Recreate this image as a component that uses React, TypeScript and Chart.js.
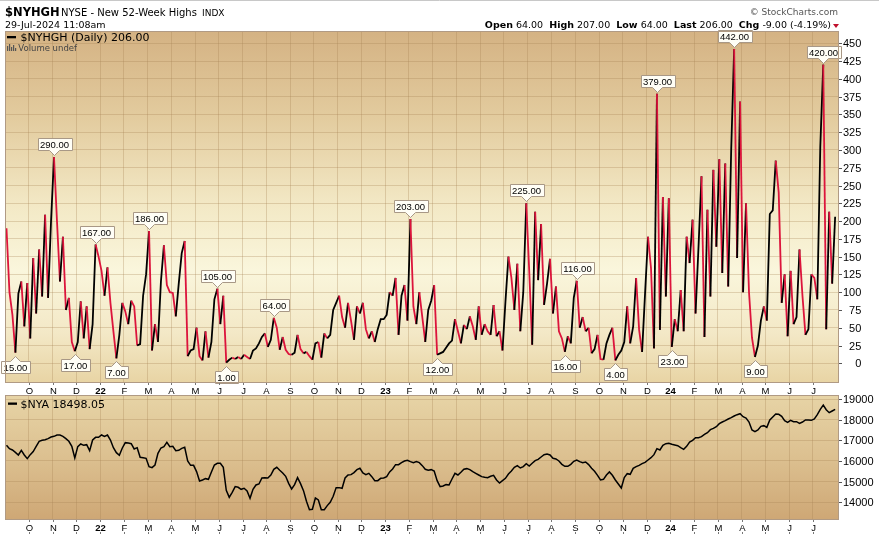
import React, { useEffect, useRef } from 'react';
import { Chart, registerables } from 'chart.js';

Chart.register(...registerables);

// ---------------- data ----------------
// months are counted from Sep 2021 (= 0); tick labels sit on the first of each month
const monthLabels = ['O','N','D','22','F','M','A','M','J','J','A','S','O','N','D','23','F','M','A','M','J','J','A','S','O','N','D','24','F','M','A','M','J','J'];
const yearLabels = ['22', '23', '24'];
const firstTickMonth = 1;

// $NYHGH, 8 readings per month (Sep 2021 .. Jul 2024)
const nyhgh2021 = [
  190,100,68,15,98,115,52,113,
  35,148,70,160,94,209,92,200,
  290,200,115,178,75,92,30,17,
  30,87,35,80,20,55,167,150,
];
const nyhgh2022 = [
  130,95,135,85,45,7,40,85,
  73,55,88,80,25,27,95,125,
  186,18,55,30,115,166,110,100,
  99,66,112,155,172,10,18,20,
  50,10,4,45,8,30,90,105,
  55,95,1,5,8,6,9,6,
  12,9,6,18,21,28,37,42,
  23,33,64,50,19,37,19,13,
  12,15,40,20,14,16,10,5,
  28,30,8,42,35,40,75,85,
  95,65,50,85,60,33,80,70,
  85,48,35,45,30,48,62,62,
];
const nyhgh2023 = [
  68,100,95,120,40,95,110,60,
  203,80,55,100,65,30,75,88,
  110,12,14,16,22,28,32,62,
  45,28,54,48,66,52,33,80,
  40,55,45,40,82,38,45,18,
  87,150,120,75,140,45,100,225,
  130,26,213,117,196,82,112,147,
  70,108,45,35,16,38,28,92,
  116,50,65,45,50,14,20,40,
  6,5,28,40,50,4,12,18,
  30,80,28,52,120,47,16,98,
  178,134,21,379,47,234,94,232,
];
const nyhgh2024 = [
  23,62,45,103,45,178,141,202,
  70,164,263,37,216,94,272,164,
  287,127,281,108,300,442,148,368,
  100,225,100,36,9,25,60,80,
  60,210,215,285,240,85,125,38,
  130,55,65,160,95,40,48,125,
  120,90,305,420,48,213,112,206,
];
const nyhghPerMonth = 8;

// $NYA, 8 readings per month
const nya2021 = [
  16758,16597,16532,16419,16290,16516,16290,16113,
  16306,16452,16710,16952,17000,17032,17081,17161,
  17193,17258,17258,17193,17081,16952,16710,16145,
  16693,16823,16758,16790,16500,17016,17145,17145,
];
const nya2022 = [
  17258,17193,17258,17016,16645,16403,16274,16629,
  16887,16871,16839,16581,16645,16177,16161,16129,
  15726,15677,15806,16371,16629,16693,16903,16693,
  16710,16500,16516,16613,16661,16000,15790,15790,
  15484,15032,15080,15145,15113,15468,15806,15887,
  15887,15693,14581,14242,14484,14758,14726,14629,
  14677,14548,14193,14629,14839,14887,15177,15193,
  15177,15322,15597,15693,15548,15419,15258,14919,
  14645,14855,15193,14903,14564,14048,13645,13661,
  14210,14113,13645,13645,13839,14000,14290,14710,
  14710,14677,15177,15322,15339,15435,15580,15645,
  15419,15339,15403,15242,15048,15048,15161,15177,
];
const nya2023 = [
  15242,15468,15613,15823,15823,15919,16000,16032,
  15968,15919,15968,15919,15774,15597,15548,15580,
  15516,15048,14758,14790,14855,14839,15129,15403,
  15322,15451,15597,15629,15580,15484,15403,15322,
  15242,15210,15193,15258,15306,15080,14935,15048,
  15161,15371,15516,15693,15774,15661,15726,15871,
  15758,15887,16016,16080,16193,16306,16339,16290,
  16129,16096,16000,15839,15742,15742,15839,15984,
  16048,15968,15919,15952,15823,15645,15500,15306,
  15080,15113,15322,15468,15306,15080,14887,14693,
  15193,15387,15355,15645,15726,15790,15871,15935,
  16048,16161,16306,16597,16532,16758,16839,16855,
];
const nya2024 = [
  16806,16774,16742,16645,16564,16710,16919,17000,
  17129,17129,17177,17290,17371,17516,17580,17661,
  17806,17887,17952,18032,18097,18177,18242,18290,
  18145,18081,17887,17500,17419,17500,17677,17710,
  17629,17984,18129,18274,18258,18161,17952,17871,
  17968,17903,17903,17822,17887,17984,17984,17968,
  18032,18242,18500,18710,18484,18339,18419,18498.05,
];
const nyaPerMonth = 8;

const hiTicks = [0,25,50,75,100,125,150,175,200,225,250,275,300,325,350,375,400,425,450];
const nyaTicks = [14000,15000,16000,17000,18000,19000];

// labelled extremes: [month, slot within month, 'a' above | 'b' below]
const callouts: [number, number, string][] = [
  [0,3,'b'],[2,0,'a'],[2,7,'b'],[3,6,'a'],[4,5,'b'],[6,0,'a'],[8,7,'a'],[9,2,'b'],
  [11,2,'a'],[17,0,'a'],[18,1,'b'],[21,7,'a'],[23,4,'b'],[24,0,'a'],[25,5,'b'],
  [27,3,'a'],[28,0,'b'],[30,5,'a'],[31,4,'b'],[34,3,'a'],
];

const titleSymbol = '$NYHGH';
const titleName = 'NYSE - New 52-Week Highs';
const titleExch = 'INDX';
const stampText = '29-Jul-2024 11:08am';
const copyrightText = '\u00A9 StockCharts.com';
const quoteFields: [string, number][] = [['Open', 64], ['High', 207], ['Low', 64], ['Last', 206]];
const quoteChg = -9;
const quoteChgPct = -4.19;
const legendTop = '$NYHGH (Daily) 206.00';
const legendVolume = 'Volume undef';
const legendBottom = '$NYA 18498.05';

// ---------------- styling ----------------
const W = 879;
const TOP_H = 395;
const BOT_H = 142;
const X_MIN = 0;
const X_MAX = 35.1;
const RED = '#dc143c';
const BLACK = '#000000';
const GRID = 'rgba(165,128,84,0.30)';
const FRAME = '#b09a84';
const FV = '"DejaVu Sans", Verdana, sans-serif';
const FA = '"Liberation Sans", Arial, sans-serif';

const hiValues = [...nyhgh2021, ...nyhgh2022, ...nyhgh2023, ...nyhgh2024];
const nyaValues = [...nya2021, ...nya2022, ...nya2023, ...nya2024];
const hiPoints = hiValues.map((v, i) => ({ x: Math.floor(i / nyhghPerMonth) + ((i % nyhghPerMonth) + 0.5) / nyhghPerMonth, y: v }));
const nyaPoints = nyaValues.map((v, i) => ({ x: Math.floor(i / nyaPerMonth) + ((i % nyaPerMonth) + 0.5) / nyaPerMonth, y: v }));
const monthTickValues = monthLabels.map((_, i) => i + firstTickMonth);

let calloutFont = '';
function pickCalloutFont(ctx: CanvasRenderingContext2D) {
  if (calloutFont) return calloutFont;
  ctx.font = '11px "Liberation Sans Narrow", monospace';
  const a = ctx.measureText('186.00').width;
  ctx.font = '11px monospace';
  const b = ctx.measureText('186.00').width;
  calloutFont = Math.abs(a - b) > 0.5 ? '11px "Liberation Sans Narrow"' : '9.5px ' + FA;
  return calloutFont;
}

function drawCallout(ctx: CanvasRenderingContext2D, x: number, y: number, text: string, above: boolean) {
  ctx.save();
  ctx.font = pickCalloutFont(ctx);
  const tw = ctx.measureText(text).width;
  const w = Math.round(tw + 5);
  const h = 12;
  const ptr = 5;
  const cx = Math.round(x) + 0.5;
  const left = Math.round(cx - w / 2) + 0.5;
  const right = left + w;
  ctx.beginPath();
  if (above) {
    const tip = Math.round(y - 2) + 0.5;
    const bb = tip - ptr;
    const bt = bb - h;
    ctx.moveTo(left, bt); ctx.lineTo(right, bt); ctx.lineTo(right, bb);
    ctx.lineTo(cx + 5, bb); ctx.lineTo(cx, tip); ctx.lineTo(cx - 5, bb);
    ctx.lineTo(left, bb); ctx.closePath();
    ctx.fillStyle = '#fffef6'; ctx.fill();
    ctx.strokeStyle = '#a89886'; ctx.lineWidth = 1; ctx.stroke();
    ctx.fillStyle = '#000'; ctx.textAlign = 'center'; ctx.textBaseline = 'middle';
    ctx.fillText(text, cx, (bt + bb) / 2 + 0.5);
  } else {
    const tip = Math.round(y + 3) + 0.5;
    const bt = tip + ptr;
    const bb = bt + h;
    ctx.moveTo(left, bt); ctx.lineTo(cx - 5, bt); ctx.lineTo(cx, tip); ctx.lineTo(cx + 5, bt);
    ctx.lineTo(right, bt); ctx.lineTo(right, bb); ctx.lineTo(left, bb); ctx.closePath();
    ctx.fillStyle = '#fffef6'; ctx.fill();
    ctx.strokeStyle = '#a89886'; ctx.lineWidth = 1; ctx.stroke();
    ctx.fillStyle = '#000'; ctx.textAlign = 'center'; ctx.textBaseline = 'middle';
    ctx.fillText(text, cx, (bt + bb) / 2 + 0.5);
  }
  ctx.restore();
}

function txt(ctx: CanvasRenderingContext2D, s: string, x: number, y: number, font: string, color = '#000', align: CanvasTextAlign = 'left') {
  ctx.font = font; ctx.fillStyle = color; ctx.textAlign = align; ctx.textBaseline = 'alphabetic';
  ctx.fillText(s, x, y);
}

function drawFrameAndAxes(chart: any, yTicks: number[], yFont: string, labelBaseline: number, tickMarkBelow: number | null) {
  const { ctx, chartArea: ca } = chart;
  const xs = chart.scales.x;
  const ys = chart.scales.y;
  ctx.save();
  ctx.strokeStyle = FRAME; ctx.lineWidth = 1;
  ctx.strokeRect(ca.left + 0.5, ca.top + 0.5, ca.right - ca.left - 1, ca.bottom - ca.top - 1);
  ctx.font = yFont;
  let maxW = 0;
  yTicks.forEach(v => { maxW = Math.max(maxW, ctx.measureText(String(v)).width); });
  const rightEdge = ca.right + 4 + maxW;
  ctx.strokeStyle = '#555';
  yTicks.forEach(v => {
    const py = Math.round(ys.getPixelForValue(v)) + 0.5;
    ctx.beginPath(); ctx.moveTo(ca.right, py); ctx.lineTo(ca.right + 3, py); ctx.stroke();
    ctx.fillStyle = '#000'; ctx.font = yFont; ctx.textAlign = 'right'; ctx.textBaseline = 'middle';
    ctx.fillText(String(v), rightEdge, py + 0.5);
  });
  monthLabels.forEach((lab, i) => {
    const px = Math.round(xs.getPixelForValue(monthTickValues[i])) + 0.5;
    ctx.strokeStyle = '#777';
    ctx.beginPath(); ctx.moveTo(px, ca.bottom); ctx.lineTo(px, ca.bottom + 2); ctx.stroke();
    if (tickMarkBelow !== null) {
      ctx.beginPath(); ctx.moveTo(px, tickMarkBelow); ctx.lineTo(px, tickMarkBelow + 2); ctx.stroke();
    }
    const bold = yearLabels.includes(lab);
    txt(ctx, lab, px, labelBaseline, (bold ? 'bold ' : '') + '9.5px ' + FA, '#000', 'center');
  });
  ctx.restore();
}

const topDeco = {
  id: 'topDeco',
  beforeDraw(chart: any) {
    const { ctx, chartArea: ca } = chart;
    ctx.save();
    ctx.fillStyle = '#fff'; ctx.fillRect(0, 0, chart.width, chart.height);
    const g = ctx.createLinearGradient(0, ca.top, 0, ca.bottom);
    g.addColorStop(0, '#d4b283');
    g.addColorStop(0.25, '#e3cc9f');
    g.addColorStop(0.5, '#f3e9c6');
    g.addColorStop(0.68, '#faf6dc');
    g.addColorStop(0.86, '#f3e8c6');
    g.addColorStop(1, '#e8d4a4');
    ctx.fillStyle = g;
    ctx.fillRect(ca.left, ca.top, ca.right - ca.left, ca.bottom - ca.top);
    ctx.strokeStyle = '#c8c8c8'; ctx.lineWidth = 1;
    ctx.beginPath(); ctx.moveTo(0, 0.5); ctx.lineTo(chart.width, 0.5); ctx.stroke();
    ctx.restore();
  },
  afterDatasetsDraw(chart: any) {
    const meta = chart.getDatasetMeta(0);
    const { ctx } = chart;
    callouts.forEach(([m, k, side]) => {
      const idx = m * nyhghPerMonth + k;
      const pt = meta.data[idx];
      if (!pt) return;
      drawCallout(ctx, pt.x, pt.y, hiValues[idx].toFixed(2), side === 'a');
    });
  },
  afterDraw(chart: any) {
    const { ctx } = chart;
    drawFrameAndAxes(chart, hiTicks, '11px ' + FA, 393.5, null);
    ctx.save();
    txt(ctx, titleSymbol, 5, 16, 'bold 11.5px ' + FV);
    txt(ctx, titleName, 61, 16, '10px ' + FV);
    txt(ctx, titleExch, 202, 16, '9px ' + FV);
    txt(ctx, stampText, 5, 27.5, '9.5px ' + FV);
    txt(ctx, copyrightText, 838, 15, '9px ' + FV, '#555', 'right');
    const segs: [string, boolean][] = [];
    quoteFields.forEach(([k, v]) => { segs.push([k, true]); segs.push([' ' + v.toFixed(2) + '  ', false]); });
    segs.push(['Chg', true]);
    segs.push([' ' + quoteChg.toFixed(2) + ' (' + quoteChgPct.toFixed(2) + '%)', false]);
    const fontFor = (b: boolean) => (b ? 'bold ' : '') + '9.5px ' + FV;
    let total = 0;
    segs.forEach(([s, b]) => { ctx.font = fontFor(b); total += ctx.measureText(s).width; });
    let x = 831 - total;
    segs.forEach(([s, b]) => { txt(ctx, s, x, 28, fontFor(b)); ctx.font = fontFor(b); x += ctx.measureText(s).width; });
    ctx.fillStyle = '#c0102c';
    ctx.beginPath(); ctx.moveTo(833, 24); ctx.lineTo(839, 24); ctx.lineTo(836, 28); ctx.closePath(); ctx.fill();
    ctx.fillStyle = '#000'; ctx.fillRect(7, 36, 9, 2.3);
    txt(ctx, legendTop, 20.5, 41, '11px ' + FV);
    ctx.fillStyle = '#555';
    [[7, 46, 5], [9, 44, 7], [11, 47, 4], [13, 45, 6], [15, 48, 3]].forEach(([bx, by, bh]) => ctx.fillRect(bx, by, 1.2, bh));
    txt(ctx, legendVolume, 18.3, 51, '8.5px ' + FV, '#444');
    ctx.restore();
  },
};

const botDeco = {
  id: 'botDeco',
  beforeDraw(chart: any) {
    const { ctx, chartArea: ca } = chart;
    ctx.save();
    ctx.fillStyle = '#fff'; ctx.fillRect(0, 0, chart.width, chart.height);
    const g = ctx.createLinearGradient(0, ca.top, 0, ca.bottom);
    g.addColorStop(0, '#e7d4a6');
    g.addColorStop(0.5, '#dcc090');
    g.addColorStop(1, '#cea775');
    ctx.fillStyle = g;
    ctx.fillRect(ca.left, ca.top, ca.right - ca.left, ca.bottom - ca.top);
    ctx.restore();
  },
  afterDraw(chart: any) {
    const { ctx } = chart;
    drawFrameAndAxes(chart, nyaTicks, '11px ' + FA, 135.8, 137);
    ctx.save();
    ctx.fillStyle = '#000'; ctx.fillRect(8, 7.5, 9, 2.3);
    txt(ctx, legendBottom, 20.5, 13.3, '11px ' + FV);
    ctx.restore();
  },
};

function baseScales(yMin: number, yMax: number, yTicks: number[], xHeight: number) {
  return {
    x: {
      type: 'linear', min: X_MIN, max: X_MAX,
      afterBuildTicks: (s: any) => { s.ticks = monthTickValues.map(v => ({ value: v })); },
      ticks: { display: false },
      grid: { color: GRID, drawTicks: false, lineWidth: 1 },
      border: { display: false },
      afterFit: (s: any) => { s.height = xHeight; },
    },
    y: {
      type: 'linear', position: 'right', min: yMin, max: yMax,
      afterBuildTicks: (s: any) => { s.ticks = yTicks.map(v => ({ value: v })); },
      ticks: { display: false },
      grid: { color: GRID, drawTicks: false, lineWidth: 1 },
      border: { display: false },
      afterFit: (s: any) => { s.width = 40; },
    },
  };
}

export default function App() {
  const topRef = useRef<HTMLCanvasElement>(null);
  const botRef = useRef<HTMLCanvasElement>(null);

  useEffect(() => {
    const top = new Chart(topRef.current as HTMLCanvasElement, {
      type: 'line',
      data: {
        datasets: [{
          data: hiPoints,
          borderColor: BLACK,
          borderWidth: 1.8,
          pointRadius: 0,
          tension: 0,
          segment: { borderColor: (c: any) => (c.p1.parsed.y < c.p0.parsed.y ? RED : BLACK) },
        }],
      },
      options: {
        animation: false, responsive: false, maintainAspectRatio: false, devicePixelRatio: 1,
        events: [],
        layout: { padding: { top: 31, left: 5, right: 0, bottom: 0 } },
        plugins: { legend: { display: false }, tooltip: { enabled: false } },
        scales: baseScales(-27.7, 467.3, hiTicks, 12) as any,
      },
      plugins: [topDeco],
    } as any);

    const bot = new Chart(botRef.current as HTMLCanvasElement, {
      type: 'line',
      data: {
        datasets: [{
          data: nyaPoints,
          borderColor: BLACK,
          borderWidth: 1.5,
          pointRadius: 0,
          tension: 0,
        }],
      },
      options: {
        animation: false, responsive: false, maintainAspectRatio: false, devicePixelRatio: 1,
        events: [],
        layout: { padding: { top: 0, left: 5, right: 0, bottom: 0 } },
        plugins: { legend: { display: false }, tooltip: { enabled: false } },
        scales: baseScales(13143, 19194, nyaTicks, 17) as any,
      },
      plugins: [botDeco],
    } as any);

    return () => { top.destroy(); bot.destroy(); };
  }, []);

  return (
    <div style={{ position: 'absolute', left: 0, top: 0, width: W, height: TOP_H + BOT_H, background: '#fff' }}>
      <canvas ref={topRef} width={W} height={TOP_H} style={{ position: 'absolute', left: 0, top: 0, width: W, height: TOP_H }} />
      <canvas ref={botRef} width={W} height={BOT_H} style={{ position: 'absolute', left: 0, top: TOP_H, width: W, height: BOT_H }} />
    </div>
  );
}
